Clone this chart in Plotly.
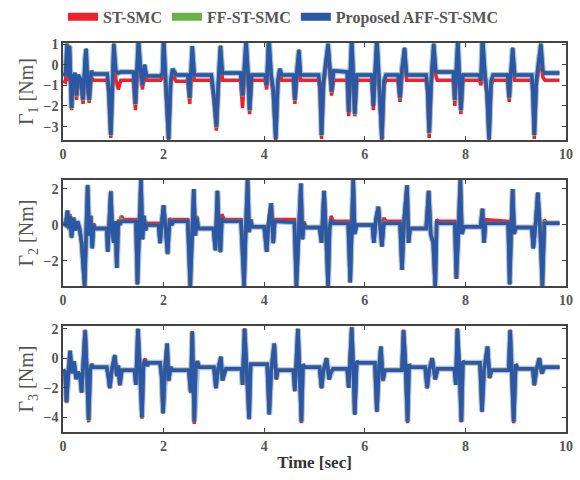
import plotly.graph_objects as go
from plotly.subplots import make_subplots

# ---------------- Panel 1 : Gamma_1 ----------------
T1 = [0.00,0.05,0.08,0.11,0.13,0.17,0.20,0.24,0.27,0.30,0.35,0.40,0.44,0.46,0.49,0.52,0.56,0.60,0.88,0.91,
      0.95,0.98,1.01,1.05,1.10,1.15,1.40,1.44,1.47,1.50,1.54,1.58,1.62,1.66,1.94,1.98,2.00,2.04,2.10,2.14,
      2.18,2.25,2.48,2.52,2.55,2.57,2.61,2.95,3.00,3.05,3.09,3.13,3.17,3.53,3.57,3.60,3.64,3.68,3.71,3.75,
      4.02,4.05,4.09,4.14,4.18,4.23,4.27,4.31,4.35,4.58,4.61,4.65,4.69,4.72,5.08,5.11,5.14,5.18,5.24,5.27,
      5.31,5.34,5.38,5.65,5.68,5.71,5.74,5.77,5.80,5.84,6.14,6.17,6.20,6.24,6.28,6.34,6.38,6.42,6.66,6.70,
      6.74,6.79,6.83,7.22,7.25,7.28,7.32,7.37,7.41,7.44,7.76,7.79,7.82,7.85,7.88,7.91,7.95,8.28,8.31,8.34,
      8.39,8.43,8.47,8.51,8.55,8.84,8.87,8.90,8.94,8.98,9.32,9.34,9.37,9.41,9.47,9.50,9.54,9.58,9.87]
R1 = [-0.80,-0.85,0.90,-0.80,0.60,-2.20,-0.80,-0.60,-1.70,-0.70,-0.90,-1.90,0.10,0.50,-1.20,-1.85,-0.60,-0.75,-0.75,-1.40,
      -3.55,-1.00,0.50,-0.70,-1.20,-0.75,-0.75,-2.20,-0.70,0.90,-0.40,-1.20,-0.20,-0.75,-0.75,-0.60,0.80,-0.80,-3.65,-1.00,
      -0.50,-0.80,-0.80,-1.90,-0.40,0.50,-0.75,-0.75,-1.70,-3.20,-1.00,0.60,-0.75,-0.75,-2.10,-0.50,0.90,-0.75,-2.40,-0.75,
      -0.75,-1.20,1.00,-0.75,-1.40,-3.65,-1.00,-0.40,-0.75,-0.75,-1.90,-0.50,0.40,-0.75,-0.75,-1.20,-3.60,-1.00,0.10,0.80,
      -0.60,-1.50,-0.75,-0.75,-2.50,-0.70,1.00,-0.70,-2.50,-0.75,-0.75,-2.20,-0.50,1.00,-0.80,-3.65,-1.00,-0.75,-0.75,-1.80,
      -0.40,0.50,-0.75,-0.75,-1.40,-3.55,-1.00,0.70,-0.50,-0.75,-0.75,-2.00,-0.40,0.90,-0.80,-2.40,-0.75,-0.75,-1.00,1.00,
      -0.75,-1.50,-3.65,-1.00,-0.75,-0.75,-1.80,-0.50,0.40,-0.75,-0.75,-1.40,-3.60,-1.00,0.00,0.30,-0.60,-0.75,-0.75]
G1 = [-0.50,-0.45,1.05,-0.60,0.95,-2.15,-0.60,-0.40,-1.55,-0.50,-0.70,-1.75,0.30,0.80,-1.00,-1.75,-0.30,-0.45,-0.45,-1.20,
      -3.45,-0.80,1.05,-0.30,-0.40,-0.35,-0.35,-1.95,-0.50,1.35,-0.20,-1.00,0.00,-0.55,-0.55,-0.40,1.30,-0.50,-3.60,-0.80,
      -0.20,-0.50,-0.50,-1.65,-0.20,0.90,-0.50,-0.50,-1.50,-3.05,-0.80,0.95,-0.40,-0.40,-1.55,-0.30,1.20,-0.50,-2.25,-0.50,
      -0.50,-1.00,1.40,-0.50,-1.20,-3.60,-0.80,-0.20,-0.50,-0.50,-1.75,-0.30,0.75,-0.50,-0.50,-1.00,-3.45,-0.80,0.30,1.05,
      -0.30,-1.35,-0.30,-0.35,-2.30,-0.50,1.35,-0.50,-2.45,-0.50,-0.50,-2.00,-0.30,1.35,-0.60,-3.60,-0.80,-0.50,-0.50,-1.65,
      -0.20,0.85,-0.50,-0.50,-1.20,-3.35,-0.80,1.05,-0.30,-0.35,-0.35,-1.75,-0.20,1.25,-0.60,-2.25,-0.50,-0.50,-0.80,1.40,
      -0.50,-1.30,-3.60,-0.80,-0.50,-0.50,-1.65,-0.30,0.85,-0.50,-0.50,-1.20,-3.45,-0.80,0.30,1.05,-0.30,-0.40,-0.40]
B1 = [-0.50,-0.45,1.00,-0.60,0.90,-2.10,-0.60,-0.40,-1.50,-0.50,-0.70,-1.70,0.30,0.75,-1.00,-1.70,-0.30,-0.45,-0.45,-1.20,
      -3.40,-0.80,1.00,-0.30,-0.40,-0.35,-0.35,-1.90,-0.50,1.30,-0.20,-1.00,0.00,-0.55,-0.55,-0.40,1.30,-0.50,-3.60,-0.80,
      -0.20,-0.50,-0.50,-1.60,-0.20,0.90,-0.50,-0.50,-1.50,-3.00,-0.80,0.90,-0.40,-0.40,-1.50,-0.30,1.20,-0.50,-2.20,-0.50,
      -0.50,-1.00,1.35,-0.50,-1.20,-3.60,-0.80,-0.20,-0.50,-0.50,-1.70,-0.30,0.70,-0.50,-0.50,-1.00,-3.40,-0.80,0.30,1.00,
      -0.30,-1.30,-0.30,-0.35,-2.30,-0.50,1.30,-0.50,-2.40,-0.50,-0.50,-2.00,-0.30,1.30,-0.60,-3.60,-0.80,-0.50,-0.50,-1.60,
      -0.20,0.80,-0.50,-0.50,-1.20,-3.30,-0.80,1.00,-0.30,-0.35,-0.35,-1.70,-0.20,1.20,-0.60,-2.20,-0.50,-0.50,-0.80,1.40,
      -0.50,-1.30,-3.60,-0.80,-0.50,-0.50,-1.60,-0.30,0.80,-0.50,-0.50,-1.20,-3.40,-0.80,0.30,1.00,-0.30,-0.40,-0.40]

# ---------------- Panel 2 : Gamma_2 ----------------
T2 = [0.00,0.05,0.09,0.12,0.14,0.17,0.21,0.25,0.29,0.33,0.37,0.43,0.46,0.49,0.52,0.55,0.58,0.61,0.64,0.87,
      0.89,0.92,0.95,0.98,1.01,1.04,1.07,1.10,1.13,1.16,1.20,1.45,1.48,1.51,1.55,1.58,1.61,1.64,1.67,1.90,
      1.93,1.97,2.00,2.04,2.08,2.12,2.16,2.20,2.48,2.53,2.56,2.60,2.63,2.66,2.69,2.99,3.03,3.07,3.10,3.13,
      3.16,3.20,3.54,3.60,3.63,3.67,3.70,3.73,3.76,4.00,4.05,4.09,4.14,4.18,4.21,4.60,4.64,4.68,4.73,4.76,
      4.79,4.82,5.10,5.14,5.19,5.23,5.27,5.30,5.33,5.37,5.67,5.71,5.74,5.77,5.80,5.84,6.15,6.18,6.22,6.27,
      6.31,6.34,6.38,6.42,6.70,6.74,6.78,6.84,6.87,6.90,7.22,7.27,7.31,7.36,7.40,7.43,7.47,7.79,7.82,7.86,
      7.90,7.93,7.97,8.30,8.34,8.37,8.40,8.85,8.88,8.91,8.94,8.97,9.00,9.32,9.35,9.40,9.44,9.49,9.53,9.57,
      9.61,9.87]
R2 = [0.15,0.00,0.80,-0.20,0.60,-0.60,0.40,-0.30,0.20,-0.20,-1.00,-3.40,-0.50,2.20,-0.60,0.50,-1.30,0.10,-0.20,-0.20,
      -1.50,0.20,1.90,-0.30,-1.00,0.20,-2.40,0.30,0.10,0.50,0.30,0.30,-3.30,-0.50,2.50,-0.80,0.50,-0.30,0.10,0.10,
      -1.00,0.30,1.10,-0.20,-1.60,0.40,0.00,0.30,0.30,-3.40,-0.50,2.00,-0.60,0.50,-0.20,-0.20,-1.40,1.90,-0.40,-1.50,
      0.60,0.30,0.30,-3.40,-0.50,2.50,-0.40,0.30,-0.10,-0.10,-1.50,0.30,1.20,-1.00,0.30,0.30,-3.40,-0.50,2.30,-0.80,
      0.20,-0.15,-0.15,-1.00,1.90,-0.50,-3.40,-0.20,0.50,0.20,0.20,-3.20,-0.40,2.50,-0.50,0.00,0.00,-1.00,0.30,1.00,
      -0.20,-1.20,0.40,0.20,0.20,-2.50,0.20,2.20,-1.00,-0.20,-0.20,1.90,-0.50,-1.00,-3.40,0.30,0.20,0.20,-3.00,-0.40,
      2.50,-0.50,-0.10,-0.10,0.90,-1.00,0.30,0.20,-3.30,-0.40,2.00,-0.50,-0.15,-0.15,-1.30,0.20,1.80,-0.50,-3.40,0.30,
      0.10,0.10]
G2 = [0.10,0.00,0.80,-0.30,0.55,-0.75,0.40,-0.30,0.20,-0.20,-1.00,-3.40,-0.50,2.25,-0.60,0.50,-1.30,0.00,-0.20,-0.20,
      -1.50,0.20,1.90,-0.30,-1.00,0.20,-2.40,0.20,0.00,0.30,0.20,0.20,-3.35,-0.50,2.55,-0.80,0.50,-0.30,0.00,0.00,
      -1.05,0.30,1.10,-0.20,-1.65,0.30,0.00,0.20,0.20,-3.45,-0.50,2.00,-0.60,0.40,-0.20,-0.20,-1.45,1.90,-0.40,-1.55,
      0.40,0.20,0.20,-3.45,-0.50,2.55,-0.40,0.30,-0.10,-0.10,-1.50,0.30,1.20,-1.05,0.20,0.15,-3.40,-0.50,2.30,-0.80,
      0.10,-0.15,-0.15,-1.00,1.90,-0.50,-3.40,-0.20,0.30,0.10,0.10,-3.20,-0.40,2.55,-0.50,0.00,0.00,-1.00,0.30,1.00,
      -0.20,-1.20,0.20,0.10,0.10,-2.50,0.20,2.20,-1.00,-0.20,-0.20,1.90,-0.50,-1.00,-3.40,0.20,0.10,0.10,-3.00,-0.40,
      2.55,-0.50,-0.10,-0.10,0.90,-1.00,0.10,0.10,-3.35,-0.40,2.00,-0.50,-0.15,-0.15,-1.30,0.20,1.80,-0.50,-3.40,0.20,
      0.10,0.10]
B2 = [0.10,0.00,0.80,-0.20,0.50,-0.70,0.40,-0.30,0.20,-0.20,-1.00,-3.40,-0.50,2.20,-0.60,0.50,-1.30,0.00,-0.20,-0.20,
      -1.50,0.20,1.85,-0.30,-1.00,0.20,-2.40,0.20,0.00,0.20,0.20,0.20,-3.30,-0.50,2.50,-0.80,0.50,-0.30,0.00,0.00,
      -1.00,0.30,1.10,-0.20,-1.60,0.30,0.00,0.20,0.20,-3.40,-0.50,2.00,-0.60,0.40,-0.20,-0.20,-1.40,1.90,-0.40,-1.50,
      0.40,0.20,0.20,-3.40,-0.50,2.50,-0.40,0.30,-0.10,-0.10,-1.50,0.30,1.20,-1.00,0.20,0.15,-3.40,-0.50,2.30,-0.80,
      0.10,-0.15,-0.15,-1.00,1.90,-0.50,-3.40,-0.20,0.30,0.10,0.10,-3.20,-0.40,2.50,-0.50,0.00,0.00,-1.00,0.30,1.00,
      -0.20,-1.20,0.10,0.10,0.10,-2.50,0.20,2.20,-1.00,-0.20,-0.20,1.90,-0.50,-1.00,-3.40,0.20,0.10,0.10,-3.00,-0.40,
      2.50,-0.50,-0.10,-0.10,0.90,-1.00,0.10,0.10,-3.30,-0.40,2.00,-0.50,-0.15,-0.15,-1.30,0.20,1.80,-0.50,-3.40,0.10,
      0.10,0.10]

# ---------------- Panel 3 : Gamma_3 ----------------
T3 = [0.00,0.04,0.07,0.10,0.14,0.18,0.22,0.26,0.30,0.34,0.37,0.40,0.44,0.47,0.51,0.54,0.57,0.60,0.87,0.90,
      0.93,0.97,1.03,1.07,1.10,1.13,1.17,1.42,1.45,1.49,1.53,1.57,1.60,1.63,1.67,1.71,1.93,1.96,1.99,2.03,
      2.07,2.10,2.14,2.18,2.50,2.54,2.57,2.61,2.64,2.67,2.71,3.00,3.04,3.08,3.14,3.17,3.21,3.24,3.55,3.57,
      3.61,3.65,3.70,3.73,3.76,4.06,4.10,4.14,4.20,4.24,4.27,4.58,4.61,4.67,4.70,4.74,4.77,4.80,5.10,5.14,
      5.18,5.24,5.29,5.33,5.37,5.65,5.68,5.74,5.77,5.80,5.84,5.87,6.20,6.24,6.28,6.32,6.36,6.40,6.74,6.77,
      6.81,6.85,6.88,6.91,7.20,7.24,7.28,7.34,7.40,7.45,7.78,7.81,7.84,7.88,7.92,7.95,7.98,8.29,8.33,8.37,
      8.44,8.48,8.52,8.86,8.89,8.92,8.96,9.00,9.04,9.34,9.37,9.41,9.47,9.52,9.57,9.87]
R3 = [-0.80,-0.90,-3.05,-1.00,0.50,-1.00,-0.20,-1.40,-0.90,-1.20,-2.35,-0.50,1.95,-0.50,-4.35,-0.80,-0.40,-0.60,-0.60,-1.20,
      -2.05,-0.80,0.20,-1.20,-0.50,-1.85,-0.80,-0.80,-1.80,2.00,-0.50,-4.10,-0.40,0.00,-0.50,-0.30,-0.30,-1.20,-3.75,-0.50,
      1.00,-1.55,-0.60,-0.80,-0.80,-2.35,1.85,-4.45,-0.50,-0.20,-0.60,-0.60,-2.05,-0.80,0.10,-1.50,-1.00,-0.70,-0.70,-1.80,
      2.05,-0.50,-4.15,-0.40,-0.40,-0.40,-3.80,-0.80,1.00,-1.45,-0.80,-0.80,-2.25,2.00,-0.50,-4.40,-0.40,-0.60,-0.60,-2.05,
      -0.80,0.00,-1.45,-0.90,-0.70,-0.70,-2.00,2.15,-0.50,-3.85,-0.20,-0.30,-0.30,-3.65,-0.80,0.80,-1.55,-0.80,-0.80,1.95,
      -0.50,-4.40,-0.40,-0.60,-0.60,-2.05,-0.80,0.00,-1.45,-0.70,-0.70,-1.80,2.05,-0.50,-4.35,-0.20,-0.30,-0.30,-3.65,-0.80,
      0.80,-1.35,-0.80,-0.80,1.95,-0.50,-4.40,-0.40,-0.70,-0.70,-1.85,-0.80,0.00,-1.05,-0.60,-0.60]
G3 = [-0.80,-0.90,-3.00,-1.00,0.55,-1.00,-0.20,-1.40,-0.90,-1.20,-2.30,-0.50,1.90,-0.50,-4.25,-0.80,-0.40,-0.60,-0.60,-1.20,
      -2.05,-0.80,0.25,-1.20,-0.50,-1.80,-0.80,-0.80,-1.80,2.00,-0.50,-4.00,-0.40,-0.10,-0.50,-0.30,-0.30,-1.20,-3.75,-0.50,
      1.05,-1.50,-0.60,-0.80,-0.80,-2.30,1.80,-4.30,-0.50,-0.20,-0.60,-0.60,-2.00,-0.80,0.15,-1.50,-1.00,-0.70,-0.70,-1.80,
      2.00,-0.50,-4.10,-0.40,-0.40,-0.40,-3.80,-0.80,1.05,-1.40,-0.80,-0.80,-2.20,2.00,-0.50,-4.30,-0.40,-0.60,-0.60,-2.00,
      -0.80,0.05,-1.40,-0.90,-0.70,-0.70,-2.00,2.10,-0.50,-3.80,-0.20,-0.30,-0.30,-3.60,-0.80,0.85,-1.50,-0.80,-0.80,1.90,
      -0.50,-4.30,-0.40,-0.60,-0.60,-2.00,-0.80,0.05,-1.40,-0.70,-0.70,-1.80,2.00,-0.50,-4.30,-0.20,-0.30,-0.30,-3.60,-0.80,
      0.85,-1.30,-0.80,-0.80,1.90,-0.50,-4.30,-0.40,-0.70,-0.70,-1.80,-0.80,0.05,-1.00,-0.60,-0.60]
B3 = [-0.80,-0.90,-2.95,-1.00,0.50,-1.00,-0.20,-1.40,-0.90,-1.20,-2.30,-0.50,1.90,-0.50,-4.20,-0.80,-0.40,-0.60,-0.60,-1.20,
      -2.00,-0.80,0.20,-1.20,-0.50,-1.80,-0.80,-0.80,-1.80,2.00,-0.50,-4.00,-0.40,-0.10,-0.50,-0.30,-0.30,-1.20,-3.70,-0.50,
      1.00,-1.50,-0.60,-0.80,-0.80,-2.30,1.80,-4.30,-0.50,-0.20,-0.60,-0.60,-2.00,-0.80,0.10,-1.50,-1.00,-0.70,-0.70,-1.80,
      2.00,-0.50,-4.10,-0.40,-0.40,-0.40,-3.80,-0.80,1.00,-1.40,-0.80,-0.80,-2.20,2.00,-0.50,-4.30,-0.40,-0.60,-0.60,-2.00,
      -0.80,0.00,-1.40,-0.90,-0.70,-0.70,-2.00,2.10,-0.50,-3.80,-0.20,-0.30,-0.30,-3.60,-0.80,0.80,-1.50,-0.80,-0.80,1.90,
      -0.50,-4.30,-0.40,-0.60,-0.60,-2.00,-0.80,0.00,-1.40,-0.70,-0.70,-1.80,2.00,-0.50,-4.30,-0.20,-0.30,-0.30,-3.60,-0.80,
      0.80,-1.30,-0.80,-0.80,1.90,-0.50,-4.30,-0.40,-0.70,-0.70,-1.80,-0.80,0.00,-1.00,-0.60,-0.60]

SERIES = ["ST-SMC", "FF-ST-SMC", "Proposed AFF-ST-SMC"]
Y_TITLES = ["Γ<sub>1</sub> [Nm]", "Γ<sub>2</sub> [Nm]", "Γ<sub>3</sub> [Nm]"]
X_TICKS = [0, 2, 4, 6, 8, 10]
Y_TICKS = [[1, 0, -1, -2, -3], [2, 0, -2], [2, 0, -2, -4]]
Y_RANGES = [[-3.65, 1.05], [-3.4, 2.5], [-5.0, 2.2]]

RED = "#f0202c"
GREEN = "#6cb04a"
BLUE = "#2a58a6"
HALO = "#a9c0e2"
AXC = "#444444"
TXT = "#555555"
FONT = "Liberation Serif, Times New Roman, serif"

fig = make_subplots(rows=3, cols=1, vertical_spacing=0.1)

panels = [(T1, R1, G1, B1), (T2, R2, G2, B2), (T3, R3, G3, B3)]
for i, (t, r, g, b) in enumerate(panels, start=1):
    fig.add_trace(go.Scatter(x=t, y=b, mode="lines", line=dict(color=HALO, width=6),
                             showlegend=False, hoverinfo="skip"), row=i, col=1)
    fig.add_trace(go.Scatter(x=t, y=r, mode="lines", line=dict(color=RED, width=3.5),
                             name=SERIES[0], showlegend=False), row=i, col=1)
    fig.add_trace(go.Scatter(x=t, y=g, mode="lines", line=dict(color=GREEN, width=3.5),
                             name=SERIES[1], showlegend=False), row=i, col=1)
    fig.add_trace(go.Scatter(x=t, y=b, mode="lines", line=dict(color=BLUE, width=3.5),
                             name=SERIES[2], showlegend=False), row=i, col=1)

# legend-only entries with thick swatches
for name, col in zip(SERIES, [RED, GREEN, BLUE]):
    fig.add_trace(go.Scatter(x=[None], y=[None], mode="lines", name="<b>" + name + "</b>",
                             line=dict(color=col, width=8), showlegend=True), row=1, col=1)

# domains (pixel-matched: plot area 43..432 px)
doms = [[0.7506, 1.0], [0.3753, 0.6478], [0.0, 0.2725]]
for i in range(3):
    xa = "xaxis" if i == 0 else f"xaxis{i+1}"
    ya = "yaxis" if i == 0 else f"yaxis{i+1}"
    fig.layout[xa].update(domain=[0, 1], range=[0, 10], tickvals=X_TICKS, ticks="inside", ticklen=4,
                          showline=True, linecolor=AXC, linewidth=1.5, mirror="ticks",
                          tickcolor=AXC, showgrid=False, zeroline=False, automargin=False,
                          tickfont=dict(family=FONT, size=14, color=TXT, weight="bold"))
    fig.layout[ya].update(domain=doms[i], range=Y_RANGES[i], tickvals=Y_TICKS[i], ticks="inside",
                          ticklen=4, showline=True, linecolor=AXC, linewidth=1.5, mirror="ticks",
                          tickcolor=AXC, showgrid=False, zeroline=False, automargin=False,
                          tickfont=dict(family=FONT, size=14, color=TXT, weight="bold"),
                          title=dict(text=Y_TITLES[i], font=dict(family=FONT, size=20, color=TXT),
                                     standoff=4))

fig.layout.xaxis3.title = dict(text="<b>Time [sec]</b>", font=dict(family=FONT, size=17, color="#333333"),
                               standoff=4)

fig.update_layout(
    width=580, height=480,
    margin=dict(l=63, r=14, t=43, b=48, autoexpand=False),
    paper_bgcolor="white", plot_bgcolor="white",
    font=dict(family=FONT, color=TXT),
    legend=dict(orientation="h", x=0.0, xanchor="left", y=1.111, yanchor="top",
                font=dict(family=FONT, size=16, color=TXT), itemwidth=30,
                bgcolor="rgba(0,0,0,0)", traceorder="normal"),
)

fig.write_html("out.html")
